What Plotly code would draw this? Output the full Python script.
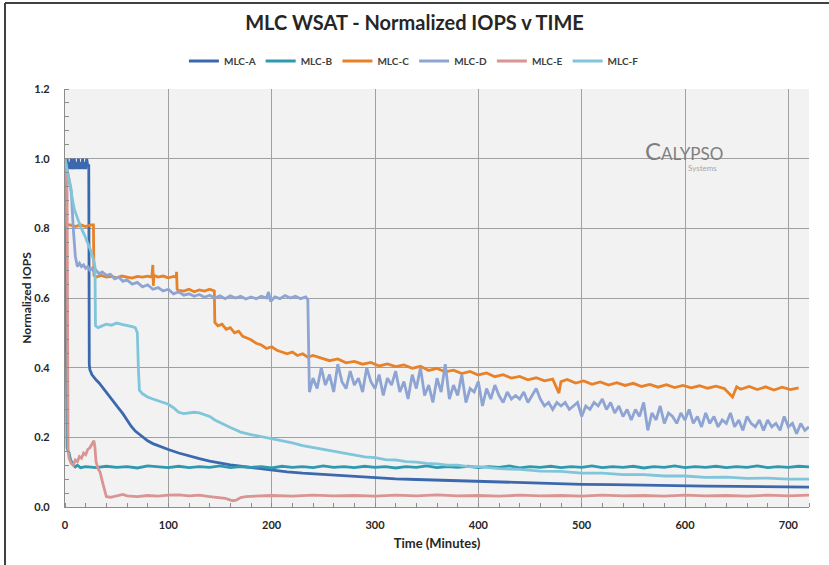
import plotly.graph_objects as go

# ---------------- data ----------------
names = ["MLC-A", "MLC-B", "MLC-C", "MLC-D", "MLC-E", "MLC-F"]
colors = ["#3C69AE", "#2F9AAF", "#E8822A", "#8EA5D3", "#D99594", "#80C5DA"]

t_A = [0, 1, 2, 3, 4, 5, 6, 7, 8, 9, 10, 11, 12, 13, 14, 15, 16, 17, 18, 19, 20, 21, 22, 23,
       23.5, 24, 26, 28, 30, 33, 36, 40, 44, 48, 52, 56, 60, 64, 68, 72, 76, 80, 85, 90, 95,
       100, 110, 120, 130, 140, 150, 160, 170, 180, 190, 200, 215, 230, 245, 260, 275, 290,
       300, 320, 340, 360, 380, 400, 425, 450, 475, 500, 530, 560, 590, 620, 650, 680, 720]
v_A = [0.99, 0.97, 1.0, 0.97, 0.99, 0.97, 1.0, 0.97, 0.98, 1.0, 0.97, 0.99, 0.97, 1.0, 0.97,
       0.99, 0.97, 1.0, 0.97, 0.99, 0.97, 1.0, 0.98, 0.98,
       0.41, 0.395, 0.38, 0.372, 0.365, 0.356, 0.345, 0.33, 0.315, 0.30, 0.283, 0.268, 0.25,
       0.232, 0.218, 0.208, 0.198, 0.19, 0.182, 0.176, 0.17, 0.165, 0.155, 0.146, 0.139,
       0.132, 0.126, 0.121, 0.117, 0.113, 0.109, 0.106, 0.101, 0.097, 0.094, 0.091, 0.088,
       0.086, 0.084, 0.081, 0.079, 0.077, 0.075, 0.073, 0.071, 0.069, 0.067, 0.065, 0.064,
       0.062, 0.061, 0.060, 0.059, 0.058, 0.057]

t_B = [0, 0.5, 1, 1.5, 2, 3, 4, 5, 6, 7, 8, 10, 12, 15,
       20, 30, 40, 50, 60, 70, 80, 90, 100, 110, 120, 130, 140, 150, 160, 170, 180, 190, 200,
       210, 220, 230, 240, 250, 260, 270, 280, 290, 300, 310, 320, 330, 340, 350, 360, 370,
       380, 390, 400, 410, 420, 430, 440, 450, 460, 470, 480, 490, 500, 510, 520, 530, 540,
       550, 560, 570, 580, 590, 600, 610, 620, 630, 640, 650, 660, 670, 680, 690, 700, 710, 720]
v_B = [1.0, 0.98, 0.6, 0.2, 0.17, 0.16, 0.155, 0.14, 0.13, 0.125, 0.12, 0.115, 0.12, 0.113,
       0.116, 0.113, 0.117, 0.114, 0.116, 0.112, 0.118, 0.115, 0.113, 0.117, 0.113, 0.116,
       0.114, 0.118, 0.113, 0.116, 0.114, 0.116, 0.112, 0.117, 0.114, 0.116, 0.113, 0.118,
       0.114, 0.116, 0.113, 0.117, 0.114, 0.116, 0.112, 0.116, 0.114, 0.118, 0.113, 0.116,
       0.114, 0.117, 0.113, 0.116, 0.114, 0.118, 0.112, 0.116, 0.114, 0.117, 0.113, 0.116,
       0.114, 0.118, 0.113, 0.116, 0.114, 0.117, 0.112, 0.116, 0.114, 0.118, 0.113, 0.116,
       0.114, 0.117, 0.113, 0.116, 0.114, 0.118, 0.113, 0.116, 0.114, 0.117, 0.115]

t_C = [0, 1, 1.5, 5, 10, 15, 20, 25, 27.5, 28, 30, 35, 40, 45, 50, 55, 60, 65, 70, 75, 80, 84,
       85, 85.5, 86, 90, 95, 100, 105, 107.5, 108, 108.5, 110, 115, 120, 125, 130, 135, 140,
       144.5, 145, 148, 152, 156, 160, 164, 168, 172, 176, 180, 185, 190, 195, 200, 205, 210,
       215, 220, 225, 230, 235,
       240, 248, 256, 264, 272, 280, 288, 296, 304, 312, 320, 328, 336, 344, 352, 360, 368,
       376, 384, 392, 400, 408, 416, 424, 432, 440, 448, 456, 464, 472, 478, 480, 486, 494,
       502, 510, 518, 526, 534, 542, 550, 558, 566, 574, 582, 590, 598, 606, 614, 622, 630,
       638, 646, 650, 654, 662, 670, 678, 686, 694, 702, 710, 720]
v_C = [1.0, 0.95, 0.81, 0.81, 0.805, 0.81, 0.805, 0.81, 0.81, 0.665, 0.66, 0.665, 0.66, 0.662,
       0.658, 0.663, 0.66, 0.657, 0.662, 0.66, 0.663, 0.66, 0.695, 0.635, 0.665, 0.66, 0.663,
       0.658, 0.662, 0.66, 0.675, 0.625, 0.622, 0.62, 0.625, 0.618, 0.623, 0.62, 0.625, 0.62,
       0.53, 0.52, 0.525, 0.51, 0.515, 0.50, 0.505, 0.49, 0.485, 0.48, 0.47, 0.465, 0.455,
       0.46, 0.45, 0.445, 0.44, 0.445, 0.435, 0.44, 0.43,
       0.435, 0.428, 0.42, 0.425, 0.414, 0.418, 0.41, 0.415, 0.405, 0.411, 0.403, 0.408,
       0.398, 0.404, 0.392, 0.398, 0.388, 0.393, 0.383, 0.389, 0.379, 0.385, 0.374, 0.38,
       0.37, 0.375, 0.365, 0.371, 0.362, 0.367, 0.327, 0.36, 0.366, 0.356, 0.362, 0.352,
       0.359, 0.35, 0.357, 0.349, 0.355, 0.346, 0.352, 0.344, 0.351, 0.343, 0.349, 0.342,
       0.348, 0.341, 0.347, 0.34, 0.316, 0.345, 0.338, 0.346, 0.337, 0.345, 0.336, 0.344,
       0.337, 0.342]

t_D = [0, 2, 4, 6, 8, 10, 12, 14, 16, 18, 20, 22, 24, 26, 28, 30, 33, 36, 40, 44, 48, 52, 56,
       60, 65, 70, 75, 80, 85, 90, 95, 100, 105, 110, 115, 120, 125, 130, 135, 140, 145, 150,
       155, 160, 165, 170, 175, 180, 185, 190, 195, 197, 199, 203, 208, 213, 218, 223, 228,
       233, 235, 236.5,
       240, 244, 248, 252, 256, 260, 264, 268, 272, 276,
       280, 284, 288, 292, 296, 300, 304, 308, 312, 316,
       320, 324, 328, 332, 336, 340, 344, 348, 352, 356,
       360, 364, 368, 372, 376, 380, 384, 388, 392, 396,
       400, 404, 408, 412, 416, 420, 424, 428, 432, 436,
       440, 444, 448, 452, 456, 460, 464, 468, 472, 476,
       480, 484, 488, 492, 496, 500, 504, 508, 512, 516,
       520, 524, 528, 532, 536, 540, 544, 548, 552, 556,
       560, 564, 568, 572, 576, 580, 584, 588, 592, 596,
       600, 604, 608, 612, 616, 620, 624, 628, 632, 636,
       640, 644, 648, 652, 656, 660, 664, 668, 672, 676,
       680, 684, 688, 692, 696, 700, 704, 708, 712, 716, 720]
v_D = [1.0, 0.97, 0.94, 0.91, 0.80, 0.72, 0.69, 0.70, 0.69, 0.695, 0.685, 0.69, 0.68, 0.685,
       0.675, 0.68, 0.67, 0.675, 0.665, 0.668, 0.655, 0.66, 0.648, 0.652, 0.64, 0.645, 0.632,
       0.638, 0.625, 0.63, 0.62, 0.625, 0.612, 0.618, 0.608, 0.612, 0.605, 0.61, 0.602, 0.608,
       0.60, 0.606, 0.598, 0.606, 0.60, 0.605, 0.597, 0.603, 0.598, 0.605, 0.60, 0.617, 0.59,
       0.603, 0.598, 0.607, 0.60, 0.605, 0.598, 0.603, 0.595, 0.33,
       0.37, 0.34, 0.40, 0.35, 0.38, 0.33, 0.41, 0.36, 0.34, 0.39,
       0.35, 0.37, 0.33, 0.40, 0.36, 0.34, 0.38, 0.32, 0.37, 0.35,
       0.39, 0.33, 0.36, 0.31, 0.38, 0.34, 0.40, 0.32, 0.35, 0.30,
       0.37, 0.33, 0.41, 0.31, 0.35, 0.32, 0.38, 0.30, 0.34, 0.33,
       0.36, 0.29, 0.34, 0.31, 0.35, 0.32, 0.30, 0.33, 0.31, 0.32,
       0.31, 0.33, 0.30, 0.32, 0.34, 0.31, 0.29, 0.30, 0.28, 0.30,
       0.29, 0.30, 0.28, 0.29, 0.30, 0.26, 0.29, 0.28, 0.30, 0.29,
       0.31, 0.28, 0.30, 0.27, 0.29, 0.26, 0.28, 0.25, 0.28, 0.26,
       0.30, 0.22, 0.27, 0.25, 0.29, 0.24, 0.27, 0.26, 0.24, 0.27,
       0.25, 0.28, 0.24, 0.26, 0.23, 0.27, 0.24, 0.26, 0.23, 0.25,
       0.24, 0.27, 0.23, 0.25, 0.22, 0.26, 0.24, 0.23, 0.25, 0.22,
       0.25, 0.23, 0.24, 0.22, 0.26, 0.23, 0.24, 0.21, 0.24, 0.22, 0.23]

t_E = [0, 1, 2, 2.5, 3, 4, 5, 6, 8, 10, 12, 14, 16, 18, 20, 22, 24, 26, 27, 28, 29, 30, 32,
       34, 36, 38, 40, 44, 48, 52, 56, 60, 70, 80, 90, 100, 110, 120, 130, 140, 150, 155,
       160, 163, 166, 170, 175, 180,
       200, 220, 240, 260, 280, 300, 320, 340, 360, 380, 400, 420, 440, 460, 480, 500, 520,
       540, 560, 580, 600, 620, 640, 660, 680, 700, 720]
v_E = [0.98, 0.97, 0.9, 0.5, 0.16, 0.14, 0.13, 0.125, 0.12, 0.135, 0.13, 0.145, 0.14, 0.155,
       0.15, 0.165, 0.17, 0.18, 0.185, 0.19, 0.17, 0.13, 0.11, 0.10, 0.075, 0.05, 0.03, 0.028,
       0.03, 0.032, 0.036, 0.032, 0.03, 0.033, 0.031, 0.034, 0.035, 0.032, 0.034, 0.03, 0.028,
       0.025, 0.02, 0.018, 0.02, 0.027, 0.03, 0.031,
       0.033, 0.031, 0.034, 0.032, 0.033, 0.031, 0.034, 0.032, 0.035, 0.032, 0.033, 0.031,
       0.034, 0.032, 0.033, 0.031, 0.034, 0.032, 0.033, 0.031, 0.034, 0.032, 0.033, 0.031,
       0.034, 0.032, 0.034]

t_F = [0, 3, 6, 9, 12, 15, 19, 22, 25, 28, 29, 29.5, 32, 36, 40, 45, 50, 55, 60, 65, 68, 70,
       71, 72, 75, 80, 85, 90, 95, 100, 105, 110, 115, 120, 125, 130, 135, 140, 145, 150, 155,
       160, 165, 170, 180, 190, 200, 210, 220, 230, 240, 250, 260, 270, 280, 290, 300, 310,
       320, 330, 340, 350, 360, 370, 380, 390, 400, 420, 440, 460, 480, 500, 520, 540, 560,
       580, 600, 620, 640, 660, 680, 700, 720]
v_F = [1.0, 0.95, 0.90, 0.855, 0.83, 0.805, 0.78, 0.76, 0.735, 0.705, 0.69, 0.52, 0.515,
       0.52, 0.525, 0.522, 0.528, 0.524, 0.522, 0.518, 0.515, 0.50, 0.40, 0.335, 0.325, 0.316,
       0.31, 0.305, 0.30, 0.295, 0.285, 0.272, 0.268, 0.27, 0.272, 0.27, 0.265, 0.26, 0.25,
       0.242, 0.235, 0.228, 0.222, 0.215, 0.208, 0.202, 0.198, 0.19, 0.184, 0.176, 0.171,
       0.164, 0.161, 0.154, 0.151, 0.144, 0.142, 0.136, 0.135, 0.130, 0.129, 0.125, 0.124,
       0.120, 0.120, 0.116, 0.116, 0.110, 0.108, 0.103, 0.102, 0.097, 0.097, 0.093, 0.093,
       0.089, 0.089, 0.085, 0.086, 0.082, 0.083, 0.080, 0.080]

series_t = [t_A, t_B, t_C, t_D, t_E, t_F]
series_v = [v_A, v_B, v_C, v_D, v_E, v_F]

x_ticks = [0, 100, 200, 300, 400, 500, 600, 700]
y_ticks = [0.0, 0.2, 0.4, 0.6, 0.8, 1.0, 1.2]

title_text = "MLC WSAT - Normalized IOPS v TIME"
x_title = "Time (Minutes)"
y_title = "Normalized IOPS"

# ---------------- figure ----------------
FONT = "Lato"
fig = go.Figure()
for n, c, t, v in zip(names, colors, series_t, series_v):
    fig.add_trace(go.Scatter(x=t, y=v, mode="lines", name=n,
                             line=dict(color=c, width=2.8)))

grid = "#a0a0a0"
fig.update_layout(
    width=829, height=565,
    margin=dict(l=65, r=20, t=89, b=58),
    paper_bgcolor="white", plot_bgcolor="#f2f2f2",
    font=dict(family=FONT, color="#262626"),
    title=dict(text=title_text, x=0.5, xref="container", xanchor="center",
               y=1 - 23 / 565, yref="container", yanchor="middle",
               font=dict(family=FONT, size=20, color="#262626", weight="bold")),
    legend=dict(orientation="h", x=0.469, xanchor="center", y=1.067, yanchor="middle",
                font=dict(family=FONT, size=10, color="#404040", weight="bold"),
                bgcolor="rgba(0,0,0,0)", itemwidth=30, tracegroupgap=0),
    showlegend=True,
)
fig.update_xaxes(range=[0, 720], tickvals=x_ticks, showgrid=True, gridcolor=grid, gridwidth=1.3,
                 showline=True, linecolor="#8c8c8c", linewidth=1.2, zeroline=False,
                 ticks="", ticklabelstandoff=8,
                 tickfont=dict(family=FONT, size=11, color="#262626", weight="bold"),
                 minor=dict(dtick=20, ticks="inside", ticklen=4, tickcolor="#8c8c8c",
                            showgrid=False),
                 title=dict(text=x_title, standoff=8,
                            font=dict(family=FONT, size=13, color="#262626", weight="bold")))
fig.update_yaxes(range=[0, 1.2], tickvals=y_ticks, tickformat=".1f", showgrid=True,
                 gridcolor=grid, gridwidth=1.3, showline=True, linecolor="#8c8c8c",
                 linewidth=1.2, zeroline=False, ticks="", ticklabelstandoff=12,
                 tickfont=dict(family=FONT, size=11, color="#262626", weight="bold"),
                 minor=dict(dtick=0.04, ticks="inside", ticklen=4, tickcolor="#8c8c8c",
                            showgrid=False),
                 title=dict(text=y_title, standoff=0,
                            font=dict(family=FONT, size=12, color="#262626", weight="bold")))

# logo
fig.add_annotation(xref="paper", yref="paper", x=(643 - 65) / 744, xanchor="left",
                   y=(507 - 150) / 418, yanchor="middle", showarrow=False,
                   text="<span style='font-size:24px'>C</span>ALYPSO",
                   font=dict(family=FONT, size=17, color="#7f7f7f"))
fig.add_annotation(xref="paper", yref="paper", x=(686 - 65) / 744, xanchor="left",
                   y=(507 - 168) / 418, yanchor="middle", showarrow=False,
                   text="Systems", font=dict(family=FONT, size=8, color="#a6a6a6"))

# outer frame (left and top edges visible)
lx = (5 - 65) / 744
ty = (507 - 3) / 418
fig.add_shape(type="line", xref="paper", yref="paper", x0=lx, x1=lx, y0=-0.2, y1=ty,
              line=dict(color="#404040", width=2))
fig.add_shape(type="line", xref="paper", yref="paper", x0=lx, x1=1.1, y0=ty, y1=ty,
              line=dict(color="#404040", width=2))

fig.write_html("out.html")
